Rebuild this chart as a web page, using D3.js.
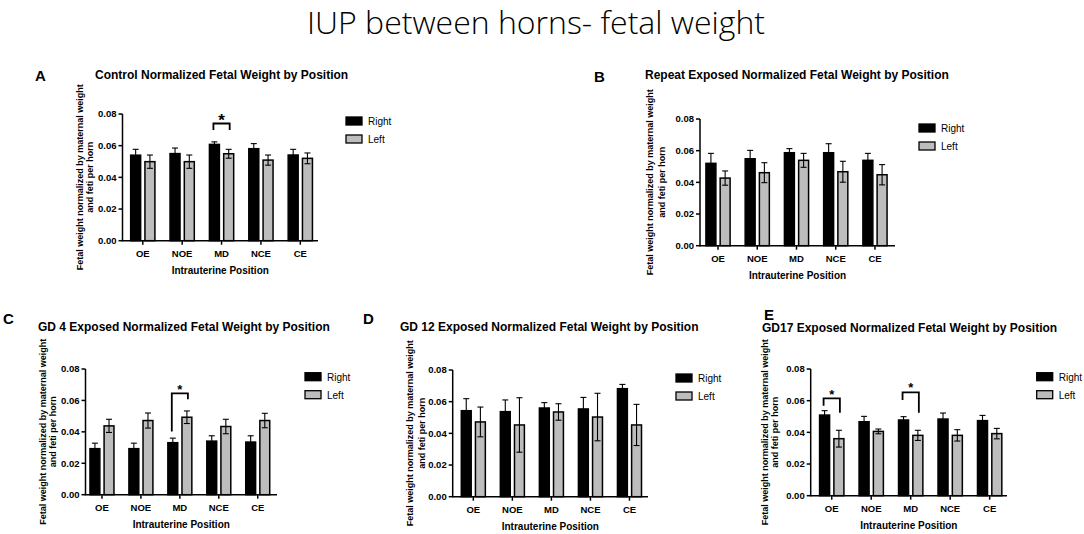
<!DOCTYPE html>
<html>
<head>
<meta charset="utf-8">
<script src="https://cdn.jsdelivr.net/npm/d3@7"></script>
<style>
  html, body { margin: 0; padding: 0; background: #fff; }
  svg { display: block; }
  text { font-family: "Liberation Sans", Arial, sans-serif; fill: #000; }
</style>
</head>
<body>
<svg id="chart" width="1084" height="534"></svg>
<script>
// ---------------- DATA ----------------
const mainTitle = "IUP between horns- fetal weight";
const categories = ["OE", "NOE", "MD", "NCE", "CE"];
const seriesNames = ["Right", "Left"];
const yTickValues = [0, 0.02, 0.04, 0.06, 0.08];
const yTickLabels = ["0.00", "0.02", "0.04", "0.06", "0.08"];
const xAxisTitle = "Intrauterine Position";
const yAxisTitleLines = ["Fetal weight normalized by maternal weight", "and feti per horn"];

// A: Control
const controlRight    = [0.0540, 0.0550, 0.0608, 0.0581, 0.0541];
const controlRightSem = [0.0037, 0.0035, 0.0016, 0.0032, 0.0036];
const controlLeft     = [0.0499, 0.0499, 0.0549, 0.0509, 0.0520];
const controlLeftSem  = [0.0042, 0.0042, 0.0028, 0.0032, 0.0034];
// B: Repeat exposed
const repeatRight    = [0.0520, 0.0549, 0.0587, 0.0587, 0.0539];
const repeatRightSem = [0.0063, 0.0053, 0.0026, 0.0057, 0.0044];
const repeatLeft     = [0.0427, 0.0461, 0.0539, 0.0467, 0.0448];
const repeatLeftSem  = [0.0045, 0.0063, 0.0044, 0.0066, 0.0064];
// C: GD 4 exposed
const gd4Right    = [0.0293, 0.0293, 0.0331, 0.0341, 0.0335];
const gd4RightSem = [0.0035, 0.0035, 0.0029, 0.0034, 0.0040];
const gd4Left     = [0.0438, 0.0472, 0.0493, 0.0434, 0.0472];
const gd4LeftSem  = [0.0042, 0.0048, 0.0040, 0.0046, 0.0046];
// D: GD 12 exposed
const gd12Right    = [0.0543, 0.0537, 0.0560, 0.0554, 0.0682];
const gd12RightSem = [0.0076, 0.0074, 0.0034, 0.0073, 0.0027];
const gd12Left     = [0.0472, 0.0453, 0.0535, 0.0503, 0.0453];
const gd12LeftSem  = [0.0094, 0.0172, 0.0052, 0.0150, 0.0130];
// E: GD17 exposed
const gd17Right    = [0.0509, 0.0467, 0.0478, 0.0484, 0.0474];
const gd17RightSem = [0.0028, 0.0034, 0.0021, 0.0038, 0.0033];
const gd17Left     = [0.0360, 0.0406, 0.0381, 0.0381, 0.0392];
const gd17LeftSem  = [0.0053, 0.0015, 0.0032, 0.0036, 0.0033];

// significance brackets (category, bar-top level, left-leg end, right-leg end, in data units)
const controlSig = [{cat: "MD", top: 0.0740, leftEnd: 0.0699, rightEnd: 0.0699, big: true}];
const repeatSig  = [];
const gd4Sig     = [{cat: "MD", top: 0.0645, leftEnd: 0.0403, rightEnd: 0.0607}];
const gd12Sig    = [];
const gd17Sig    = [{cat: "OE", top: 0.0614, leftEnd: 0.0568, rightEnd: 0.0524},
                    {cat: "MD", top: 0.0653, leftEnd: 0.0604, rightEnd: 0.0524}];

// ---------------- LAYOUT ----------------
const panels = [
  { letter: "A", title: "Control Normalized Fetal Weight by Position",
    right: controlRight, rightSem: controlRightSem, left: controlLeft, leftSem: controlLeftSem, sig: controlSig,
    letterPos: [35, 81], titlePos: [95, 79],
    ax0: 122.5, ax1: 318, bx0: 123.1, bx1: 320, yb: 240.7, yt: 114,
    yl1: 83, yl2: 93, legX: 346, legY: 117 },
  { letter: "B", title: "Repeat Exposed Normalized Fetal Weight by Position",
    right: repeatRight, rightSem: repeatRightSem, left: repeatLeft, leftSem: repeatLeftSem, sig: repeatSig,
    letterPos: [594, 82], titlePos: [645, 79],
    ax0: 700, ax1: 895, bx0: 698.4, bx1: 894.6, yb: 245.7, yt: 119,
    yl1: 653, yl2: 665, legX: 919, legY: 124 },
  { letter: "C", title: "GD 4 Exposed Normalized Fetal Weight by Position",
    right: gd4Right, rightSem: gd4RightSem, left: gd4Left, leftSem: gd4LeftSem, sig: gd4Sig,
    letterPos: [3, 324], titlePos: [38, 331],
    ax0: 85.5, ax1: 277, bx0: 82.5, bx1: 277.2, yb: 494.7, yt: 369,
    yl1: 46, yl2: 56, legX: 305, legY: 372.7 },
  { letter: "D", title: "GD 12 Exposed Normalized Fetal Weight by Position",
    right: gd12Right, rightSem: gd12RightSem, left: gd12Left, leftSem: gd12LeftSem, sig: gd12Sig,
    letterPos: [363, 324], titlePos: [400, 331],
    ax0: 452.7, ax1: 648, bx0: 453.8, bx1: 649, yb: 496.7, yt: 370,
    yl1: 413, yl2: 425, legX: 676, legY: 374 },
  { letter: "E", title: "GD17 Exposed Normalized Fetal Weight by Position",
    right: gd17Right, rightSem: gd17RightSem, left: gd17Left, leftSem: gd17LeftSem, sig: gd17Sig,
    letterPos: [764, 320], titlePos: [762, 332],
    ax0: 810.7, ax1: 1007, bx0: 812, bx1: 1009.4, yb: 495.7, yt: 369,
    yl1: 768, yl2: 778, legX: 1036.7, legY: 372.7 }
];

const GRAY = "#bdbdbd";
const svg = d3.select("#chart");

svg.append("text")
  .attr("x", 536).attr("y", 34)
  .attr("text-anchor", "middle")
  .style("font-family", "'Open Sans', 'Noto Sans', sans-serif")
  .style("font-weight", 300)
  .style("font-size", "32px")
  .text(mainTitle);

panels.forEach(p => {
  const g = svg.append("g");
  const y = d3.scaleLinear().domain([0, 0.08]).range([p.yb, p.yt]);
  const x = d3.scaleBand().domain(categories).range([p.bx0, p.bx1]).paddingInner(0).paddingOuter(0);
  const xs = d3.scaleBand().domain(seriesNames).range([0, x.bandwidth()]).paddingInner(0.3).paddingOuter(0.53);
  const bw = xs.bandwidth();

  // letter and title
  g.append("text").attr("x", p.letterPos[0]).attr("y", p.letterPos[1])
    .style("font-size", "15px").style("font-weight", "bold").text(p.letter);
  g.append("text").attr("x", p.titlePos[0]).attr("y", p.titlePos[1])
    .style("font-size", "12px").style("font-weight", "bold").text(p.title);

  // bars
  const rows = [];
  categories.forEach((c, i) => {
    rows.push({cat: c, s: "Right", v: p.right[i], e: p.rightSem[i]});
    rows.push({cat: c, s: "Left", v: p.left[i], e: p.leftSem[i]});
  });
  const cx = d => x(d.cat) + xs(d.s) + bw / 2;

  g.selectAll("rect.bar").data(rows).enter().append("rect")
    .attr("class", "bar")
    .attr("x", d => x(d.cat) + xs(d.s))
    .attr("y", d => y(d.v))
    .attr("width", bw)
    .attr("height", d => y(0) - y(d.v))
    .attr("fill", d => d.s === "Right" ? "#000" : GRAY)
    .attr("stroke", "#000").attr("stroke-width", 1.5);

  // error bars
  const eb = g.selectAll("g.err").data(rows).enter().append("g").attr("class", "err")
    .attr("stroke", "#000").attr("stroke-width", 1.1);
  eb.append("line").attr("x1", cx).attr("x2", cx)
    .attr("y1", d => y(d.v - d.e)).attr("y2", d => y(d.v + d.e));
  eb.append("line").attr("x1", d => cx(d) - 3).attr("x2", d => cx(d) + 3)
    .attr("y1", d => y(d.v + d.e)).attr("y2", d => y(d.v + d.e));
  eb.append("line").attr("x1", d => cx(d) - 3).attr("x2", d => cx(d) + 3)
    .attr("y1", d => y(d.v - d.e)).attr("y2", d => y(d.v - d.e));

  // y axis
  g.append("line").attr("x1", p.ax0).attr("x2", p.ax0).attr("y1", y(0) + 0.75).attr("y2", y(0.08))
    .attr("stroke", "#000").attr("stroke-width", 1.5);
  yTickValues.forEach((t, i) => {
    g.append("line").attr("x1", p.ax0 - 4).attr("x2", p.ax0).attr("y1", y(t)).attr("y2", y(t))
      .attr("stroke", "#000").attr("stroke-width", 1.5);
    g.append("text").attr("x", p.ax0 - 6).attr("y", y(t) + 3.3)
      .attr("text-anchor", "end").style("font-size", "9.5px").style("font-weight", "bold")
      .text(yTickLabels[i]);
  });
  // x axis
  g.append("line").attr("x1", p.ax0).attr("x2", p.ax1).attr("y1", y(0)).attr("y2", y(0))
    .attr("stroke", "#000").attr("stroke-width", 1.5);
  categories.forEach(c => {
    const xc = x(c) + x.bandwidth() / 2;
    g.append("line").attr("x1", xc).attr("x2", xc).attr("y1", y(0)).attr("y2", y(0) + 4)
      .attr("stroke", "#000").attr("stroke-width", 1.5);
    g.append("text").attr("x", xc).attr("y", y(0) + 16)
      .attr("text-anchor", "middle").style("font-size", "9.5px").style("font-weight", "bold").text(c);
  });
  g.append("text").attr("x", (p.ax0 + p.ax1) / 2).attr("y", y(0) + 33)
    .attr("text-anchor", "middle").style("font-size", "10px").style("font-weight", "bold").text(xAxisTitle);

  // y axis title
  const ymid = (y(0) + y(0.08)) / 2;
  [p.yl1, p.yl2].forEach((xx, i) => {
    g.append("text").attr("transform", `translate(${xx},${ymid}) rotate(-90)`)
      .attr("text-anchor", "middle").style("font-size", "9px").style("font-weight", "bold")
      .text(yAxisTitleLines[i]);
  });

  // legend
  seriesNames.forEach((s, i) => {
    const ly = p.legY + i * 18;
    g.append("rect").attr("x", p.legX).attr("y", ly).attr("width", 16).attr("height", 8)
      .attr("fill", s === "Right" ? "#000" : GRAY).attr("stroke", "#000").attr("stroke-width", 1.3);
    g.append("text").attr("x", p.legX + 22).attr("y", ly + 8)
      .style("font-size", "10px").text(s);
  });

  // significance brackets
  p.sig.forEach(sg => {
    const xl = x(sg.cat) + xs("Right") + bw / 2 - 1;
    const xr = x(sg.cat) + xs("Left") + bw / 2 + 1;
    g.append("path")
      .attr("d", `M${xl},${y(sg.leftEnd)}V${y(sg.top)}H${xr}V${y(sg.rightEnd)}`)
      .attr("fill", "none").attr("stroke", "#000").attr("stroke-width", 1.8);
    const fs = sg.big ? 17 : 13;
    g.append("text").attr("x", (xl + xr) / 2).attr("y", y(sg.top) - 7 + fs * 0.55)
      .attr("text-anchor", "middle").style("font-size", fs + "px").style("font-weight", "bold").text("*");
  });
});
</script>
</body>
</html>
